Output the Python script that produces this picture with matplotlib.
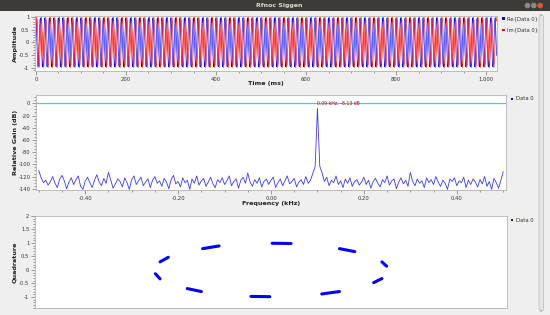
import numpy as np
import matplotlib
matplotlib.use('Agg')
import matplotlib.pyplot as plt
from matplotlib.patches import Rectangle, Ellipse, FancyBboxPatch
from matplotlib.ticker import MultipleLocator, AutoMinorLocator, FuncFormatter

# one cycle of the tone (10 samples at 1 kHz)
re_cycle = [0.96, 0.645, 0.09, -0.51, -0.905, -0.96, -0.65, -0.09, 0.505, 0.905]
im_cycle = [0.22, 0.735, 0.985, 0.84, 0.385, -0.235, -0.745, -0.985, -0.845, -0.395]
n_samples = 1024

# spectrum (dB), -0.5 .. 0.5 kHz in 0.005 kHz steps
spectrum_db = [
    -110, -122, -130, -126, -134, -128, -120, -131, -138, -124,
    -118, -127, -140, -129, -122, -133, -125, -119, -136, -141,
    -127, -121, -130, -138, -126, -117, -129, -135, -123, -131,
    -113, -126, -139, -132, -124, -128, -137, -122, -130, -141,
    -125, -119, -133, -127, -121, -135, -129, -124, -138, -126,
    -120, -131, -127, -136, -123, -129, -140, -125, -118, -132,
    -128, -137, -122, -130, -126, -141, -124, -131, -119, -134,
    -127, -123, -136, -129, -121, -132, -138, -125, -130, -122,
    -133, -127, -119, -135, -128, -124, -139, -126, -121, -131,
    -114, -129, -136, -125, -131, -122, -137, -128, -124, -133,
    -126, -121, -138, -130, -124, -135, -127, -119, -132, -128,
    -123, -137, -129, -125, -133, -120, -131, -126, -115, -104,
    -8.13, -103, -114, -128, -121, -135, -126, -130, -119, -133,
    -127, -138, -124, -131, -122, -136, -128, -125, -134, -129,
    -121, -133, -126, -139, -128, -123, -131, -137, -125, -130,
    -119, -134, -127, -124, -140, -129, -122, -132, -126, -136,
    -113, -128, -135, -124, -131, -127, -138, -122, -130, -125,
    -133, -120, -129, -136, -126, -131, -141, -124, -128, -122,
    -135, -127, -130, -121, -138, -126, -133, -124, -129, -137,
    -125, -132, -120, -136, -128, -141, -123, -130, -139, -126,
    -112,
]
marker_label = '0.09 kHz, -8.13 dB'
marker_freq = 0.1

# constellation dashes (start/end in I and Q)
dash_i_start = [-0.94, -0.98, -0.58, -0.71, -0.17, 0.01, 0.58, 0.94, 0.87, 0.43]
dash_i_end = [-0.87, -0.94, -0.44, -0.59, -0.01, 0.17, 0.71, 0.98, 0.94, 0.58]
dash_q_start = [0.30, -0.14, 0.79, -0.69, -0.98, 0.99, 0.79, 0.30, -0.47, -0.89]
dash_q_end = [0.47, -0.33, 0.89, -0.80, -0.99, 0.98, 0.68, 0.14, -0.32, -0.80]

W, H = 550, 315
BG = '#efefef'


def rect(x0, y0, x1, y1):
    return [x0 / W, 1 - y1 / H, (x1 - x0) / W, (y1 - y0) / H]


def fx(x):
    return x / W


def fy(y):
    return 1 - y / H


def style(ax):
    for s in ax.spines.values():
        s.set_color('#b4b4b4')
        s.set_linewidth(0.6)
    ax.tick_params(which='both', direction='out', colors='#777777', width=0.5,
                   labelsize=3.8, labelcolor='#333333')
    ax.tick_params(which='major', length=2.6, pad=1.5)
    ax.tick_params(which='minor', length=1.3)
    ax.tick_params(top=False, right=False)


fig = plt.figure(figsize=(5.5, 3.15), dpi=100, facecolor=BG)

# window title bar
fig.patches.append(Rectangle((0, fy(10.5)), 1, 10.5 / H, transform=fig.transFigure,
                             facecolor='#3c3b37', edgecolor='none'))
fig.text(fx(279), fy(5.5), 'Rfnoc Siggen', ha='center', va='center', fontsize=4.5,
         fontweight='bold', color='#dfdbd2')
for cx, col in [(527.5, '#8a8984'), (533.8, '#8a8984'), (540.2, '#e2572b')]:
    fig.patches.append(Ellipse((fx(cx), fy(5.5)), 5.6 / W, 5.6 / H,
                               transform=fig.transFigure, facecolor=col,
                               edgecolor='none'))

# scrollbar
fig.patches.append(FancyBboxPatch((fx(539), fy(311)), 4.5 / W, 296 / H,
                                  boxstyle='round,pad=0,rounding_size=0.006',
                                  transform=fig.transFigure, facecolor='#e4e4e4',
                                  edgecolor='#b9b9b9', linewidth=0.5))

# time domain
t = np.arange(n_samples)
reps = n_samples // len(re_cycle) + 1
re_vals = np.tile(re_cycle, reps)[:n_samples]
im_vals = np.tile(im_cycle, reps)[:n_samples]

ax1 = fig.add_axes(rect(35, 15.5, 497, 71))
ax1.plot(t, re_vals, color='#0000ff', lw=0.45)
ax1.plot(t, im_vals, color='#ff0000', lw=0.45)
ax1.set_xlim(-2, 1024)
ax1.set_ylim(-1.12, 1.05)
ax1.xaxis.set_major_locator(MultipleLocator(200))
ax1.xaxis.set_minor_locator(MultipleLocator(50))
ax1.yaxis.set_major_locator(MultipleLocator(0.5))
ax1.yaxis.set_minor_locator(AutoMinorLocator(5))
ax1.xaxis.set_major_formatter(FuncFormatter(lambda v, p: '{:,.0f}'.format(v)))
ax1.yaxis.set_major_formatter(FuncFormatter(lambda v, p: '%g' % v))
style(ax1)

# frequency domain
freqs = np.linspace(-0.5, 0.5, len(spectrum_db))
ax2 = fig.add_axes(rect(36, 95, 506, 190))
ax2.axhline(0, color='#5fc3d2', lw=0.9)
ax2.plot(freqs, spectrum_db, color='#3a3aff', lw=0.6)
ax2.text(marker_freq, 0, marker_label, fontsize=3.3, color='#a01c1c',
         ha='left', va='center')
ax2.set_xlim(-0.506, 0.506)
ax2.set_ylim(-142, 13.6)
ax2.xaxis.set_major_locator(MultipleLocator(0.2))
ax2.xaxis.set_minor_locator(MultipleLocator(0.05))
ax2.yaxis.set_major_locator(MultipleLocator(20))
ax2.yaxis.set_minor_locator(AutoMinorLocator(4))
ax2.xaxis.set_major_formatter(FuncFormatter(lambda v, p: '%.2f' % v))
ax2.yaxis.set_major_formatter(FuncFormatter(lambda v, p: '%d' % round(v)))
style(ax2)

# constellation
ax3 = fig.add_axes(rect(35, 216, 507, 308))
for i in range(len(dash_i_start)):
    ax3.plot([dash_i_start[i], dash_i_end[i]], [dash_q_start[i], dash_q_end[i]],
             color='#0000ff', lw=2.2, solid_capstyle='round')
ax3.set_xlim(-2.0, 2.0)
ax3.set_ylim(-1.41, 2.0)
ax3.yaxis.set_major_locator(MultipleLocator(0.5))
ax3.yaxis.set_minor_locator(AutoMinorLocator(5))
ax3.yaxis.set_major_formatter(FuncFormatter(lambda v, p: '%g' % v))
style(ax3)
ax3.tick_params(axis='x', which='both', bottom=False, labelbottom=False)

# axis titles
lab = dict(fontsize=4.6, fontweight='bold', color='#222222', ha='center', va='center')
fig.text(fx(266), fy(83.5), 'Time (ms)', **lab)
fig.text(fx(271), fy(204), 'Frequency (kHz)', **lab)
fig.text(fx(15), fy(43), 'Amplitude', rotation=90, **lab)
fig.text(fx(15), fy(142), 'Relative Gain (dB)', rotation=90, **lab)
fig.text(fx(15), fy(262), 'Quadrature', rotation=90, **lab)

# legends
legend_items = [(503.5, 18.5, '#0000ff', 'Re{Data 0}'),
                (503.5, 30, '#ff0000', 'Im{Data 0}'),
                (512, 99, '#0000ff', 'Data 0'),
                (512, 220, '#0000ff', 'Data 0')]
for lx, ly, col, txt in legend_items:
    fig.patches.append(Rectangle((fx(lx - 1.3), fy(ly + 1.3)), 2.6 / W, 2.6 / H,
                                 transform=fig.transFigure, facecolor=col,
                                 edgecolor='none'))
    fig.text(fx(lx + 3.5), fy(ly), txt, fontsize=3.8, color='#333333',
             ha='left', va='center')

fig.savefig('out.png', dpi=100, facecolor=BG)
